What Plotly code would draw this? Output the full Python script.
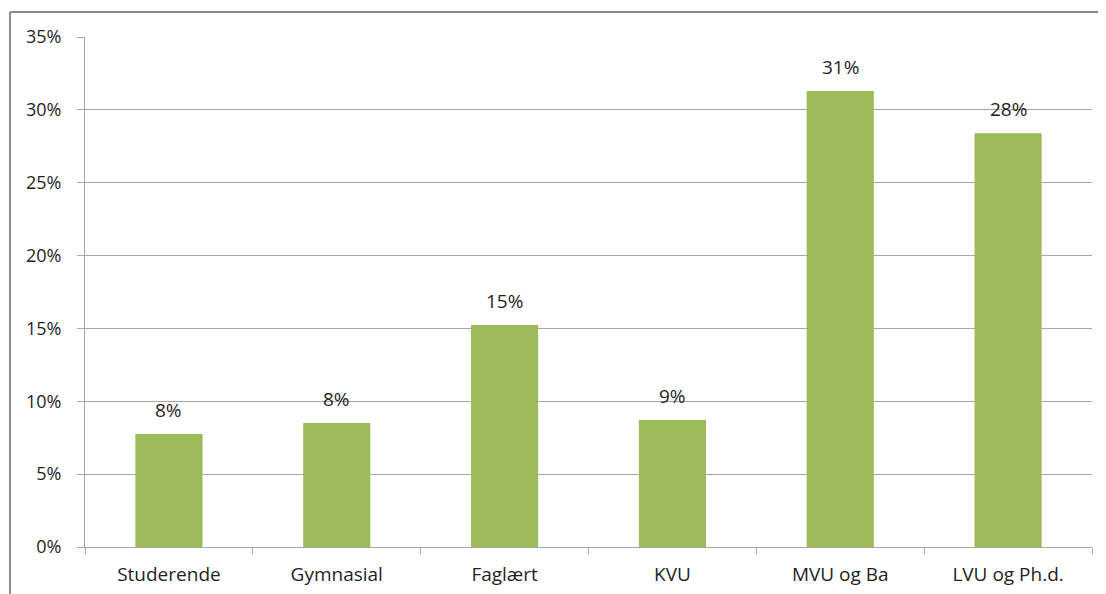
import plotly.graph_objects as go

categories = ["Studerende", "Gymnasial", "Faglært", "KVU", "MVU og Ba", "LVU og Ph.d."]
values = [7.76, 8.51, 15.24, 8.72, 31.3, 28.4]
labels = ["8%", "8%", "15%", "9%", "31%", "28%"]
y_ticks = [0, 5, 10, 15, 20, 25, 30, 35]
y_tick_text = ["0%", "5%", "10%", "15%", "20%", "25%", "30%", "35%"]

FONT = "Open Sans, Liberation Sans, Arial, sans-serif"
TXT = "#1f1f1f"

# page body has an 8px default margin, so the figure is drawn 8px smaller/offset
W, H = 1098, 586

fig = go.Figure()
fig.add_trace(go.Bar(
    x=categories, y=values,
    marker=dict(color="#9BBB59", line=dict(width=0)),
    width=0.4, hoverinfo="x+y",
))

for c, v, t in zip(categories, values, labels):
    fig.add_annotation(x=c, y=v, text=t, showarrow=False, yanchor="bottom",
                       yshift=9, font=dict(family=FONT, size=19, color=TXT))

fig.update_layout(
    width=W, height=H,
    margin=dict(l=77, r=14, t=29, b=47),
    paper_bgcolor="white", plot_bgcolor="white",
    showlegend=False,
    font=dict(family=FONT, size=19, color=TXT),
    xaxis=dict(
        showgrid=False, showline=True, linecolor="#a6a6a6", linewidth=1,
        ticks="outside", tickson="boundaries", ticklen=6, tickcolor="#a6a6a6",
        tickfont=dict(family=FONT, size=19, color=TXT),
        ticklabelstandoff=10, automargin=False,
    ),
    yaxis=dict(
        range=[0, 35], tickvals=y_ticks, ticktext=y_tick_text,
        showgrid=True, gridcolor="#a6a6a6", gridwidth=1,
        showline=True, linecolor="#a6a6a6", linewidth=1,
        ticks="outside", ticklen=7, tickcolor="#a6a6a6",
        tickfont=dict(family=FONT, size=18, color=TXT),
        ticklabelstandoff=12, automargin=False,
        zeroline=False,
    ),
)

# outer chart border (partially cropped in the reference)
fig.add_shape(type="line", xref="paper", yref="paper",
              x0=-0.0745, x1=1.03, y0=1.049, y1=1.049,
              line=dict(color="#8c8c8c", width=2))
fig.add_shape(type="line", xref="paper", yref="paper",
              x0=-0.0745, x1=-0.0745, y0=1.049, y1=-0.12,
              line=dict(color="#8c8c8c", width=2))

fig.write_html("out.html")
